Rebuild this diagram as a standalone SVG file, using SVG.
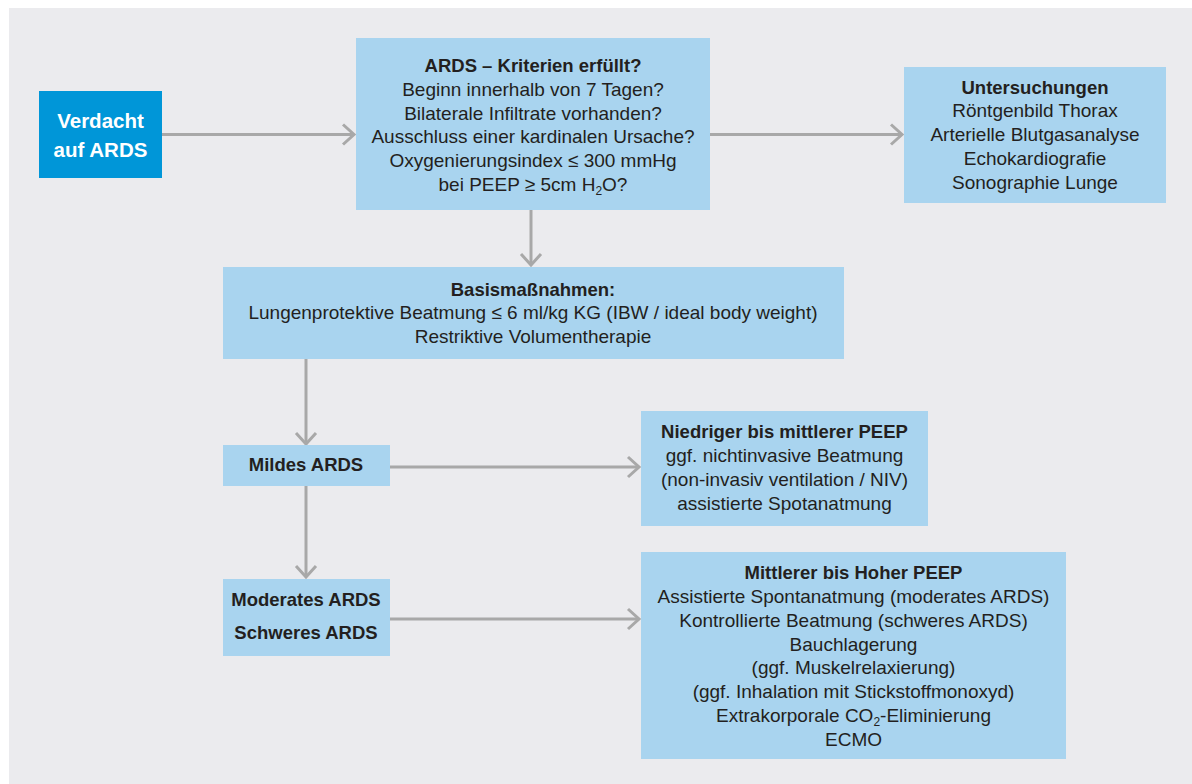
<svg xmlns="http://www.w3.org/2000/svg" width="1192" height="784" viewBox="0 0 1192 784">
<defs>
<style>
.box{fill:#a9d4ef}
.dark{fill:#0096d8}
.t{font-family:"Liberation Sans",Arial,sans-serif;font-size:19px;fill:#231f20;text-anchor:middle}
.b{font-weight:bold;font-size:18.5px}
.w{font-family:"Liberation Sans",Arial,sans-serif;font-size:20.5px;font-weight:bold;fill:#ffffff;text-anchor:middle}
.c{stroke:#a8a8a8;stroke-width:3;fill:none}
.sub{font-size:12px}
</style>
<marker id="ah" markerUnits="userSpaceOnUse" markerWidth="24" markerHeight="24" viewBox="-13 -12 15 24" refX="0" refY="0" orient="auto">
<path d="M-11,-10 L0,0 L-11,10" fill="none" stroke="#a8a8a8" stroke-width="3"/>
</marker>
</defs>
<rect x="0" y="0" width="1192" height="784" fill="#ffffff"/>
<rect x="9" y="8" width="1183" height="776" fill="#ebebee"/>
<g id="connectors">
<line class="c" x1="162" y1="134.5" x2="354" y2="134.5" marker-end="url(#ah)"/>
<line class="c" x1="710" y1="134.5" x2="902" y2="134.5" marker-end="url(#ah)"/>
<line class="c" x1="531" y1="210" x2="531" y2="265" marker-end="url(#ah)"/>
<line class="c" x1="306" y1="359" x2="306" y2="444" marker-end="url(#ah)"/>
<line class="c" x1="306" y1="486" x2="306" y2="577" marker-end="url(#ah)"/>
<line class="c" x1="390" y1="467" x2="639" y2="467" marker-end="url(#ah)"/>
<line class="c" x1="390" y1="619" x2="639" y2="619" marker-end="url(#ah)"/>
</g>
<g id="verdacht">
<rect class="dark" x="39" y="91" width="123" height="87"/>
<text class="w" x="100.5" y="128">Verdacht</text>
<text class="w" x="100.5" y="157">auf ARDS</text>
</g>
<g id="kriterien">
<rect class="box" x="356" y="38" width="354" height="172"/>
<text class="t b" x="533" y="72">ARDS – Kriterien erfüllt?</text>
<text class="t" x="533" y="96">Beginn innerhalb von 7 Tagen?</text>
<text class="t" x="533" y="120">Bilaterale Infiltrate vorhanden?</text>
<text class="t" x="533" y="143">Ausschluss einer kardinalen Ursache?</text>
<text class="t" x="533" y="167">Oxygenierungsindex ≤ 300 mmHg</text>
<text class="t" x="533" y="191">bei PEEP ≥ 5cm H<tspan class="sub" dy="4">2</tspan><tspan dy="-4">O?</tspan></text>
</g>
<g id="untersuchungen">
<rect class="box" x="904" y="67" width="262" height="136"/>
<text class="t b" x="1035" y="94">Untersuchungen</text>
<text class="t" x="1035" y="117">Röntgenbild Thorax</text>
<text class="t" x="1035" y="141">Arterielle Blutgasanalyse</text>
<text class="t" x="1035" y="165">Echokardiografie</text>
<text class="t" x="1035" y="189">Sonographie Lunge</text>
</g>
<g id="basis">
<rect class="box" x="223" y="267" width="621" height="92"/>
<text class="t b" x="533" y="296">Basismaßnahmen:</text>
<text class="t" x="533" y="319">Lungenprotektive Beatmung ≤ 6 ml/kg KG (IBW / ideal body weight)</text>
<text class="t" x="533" y="343">Restriktive Volumentherapie</text>
</g>
<g id="mildes">
<rect class="box" x="223" y="445" width="167" height="41"/>
<text class="t b" x="306" y="471">Mildes ARDS</text>
</g>
<g id="niedriger">
<rect class="box" x="641" y="411" width="287" height="115"/>
<text class="t b" x="784.5" y="438">Niedriger bis mittlerer PEEP</text>
<text class="t" x="784.5" y="462">ggf. nichtinvasive Beatmung</text>
<text class="t" x="784.5" y="486">(non-invasiv ventilation / NIV)</text>
<text class="t" x="784.5" y="510">assistierte Spotanatmung</text>
</g>
<g id="moderates">
<rect class="box" x="223" y="579" width="167" height="77"/>
<text class="t b" x="306" y="606">Moderates ARDS</text>
<text class="t b" x="306" y="639">Schweres ARDS</text>
</g>
<g id="mittlerer">
<rect class="box" x="641" y="552" width="425" height="207"/>
<text class="t b" x="853.5" y="579">Mittlerer bis Hoher PEEP</text>
<text class="t" x="853.5" y="603">Assistierte Spontanatmung (moderates ARDS)</text>
<text class="t" x="853.5" y="627">Kontrollierte Beatmung (schweres ARDS)</text>
<text class="t" x="853.5" y="651">Bauchlagerung</text>
<text class="t" x="853.5" y="674">(ggf. Muskelrelaxierung)</text>
<text class="t" x="853.5" y="698">(ggf. Inhalation mit Stickstoffmonoxyd)</text>
<text class="t" x="853.5" y="722">Extrakorporale CO<tspan class="sub" dy="4">2</tspan><tspan dy="-4">-Eliminierung</tspan></text>
<text class="t" x="853.5" y="746">ECMO</text>
</g>
</svg>
